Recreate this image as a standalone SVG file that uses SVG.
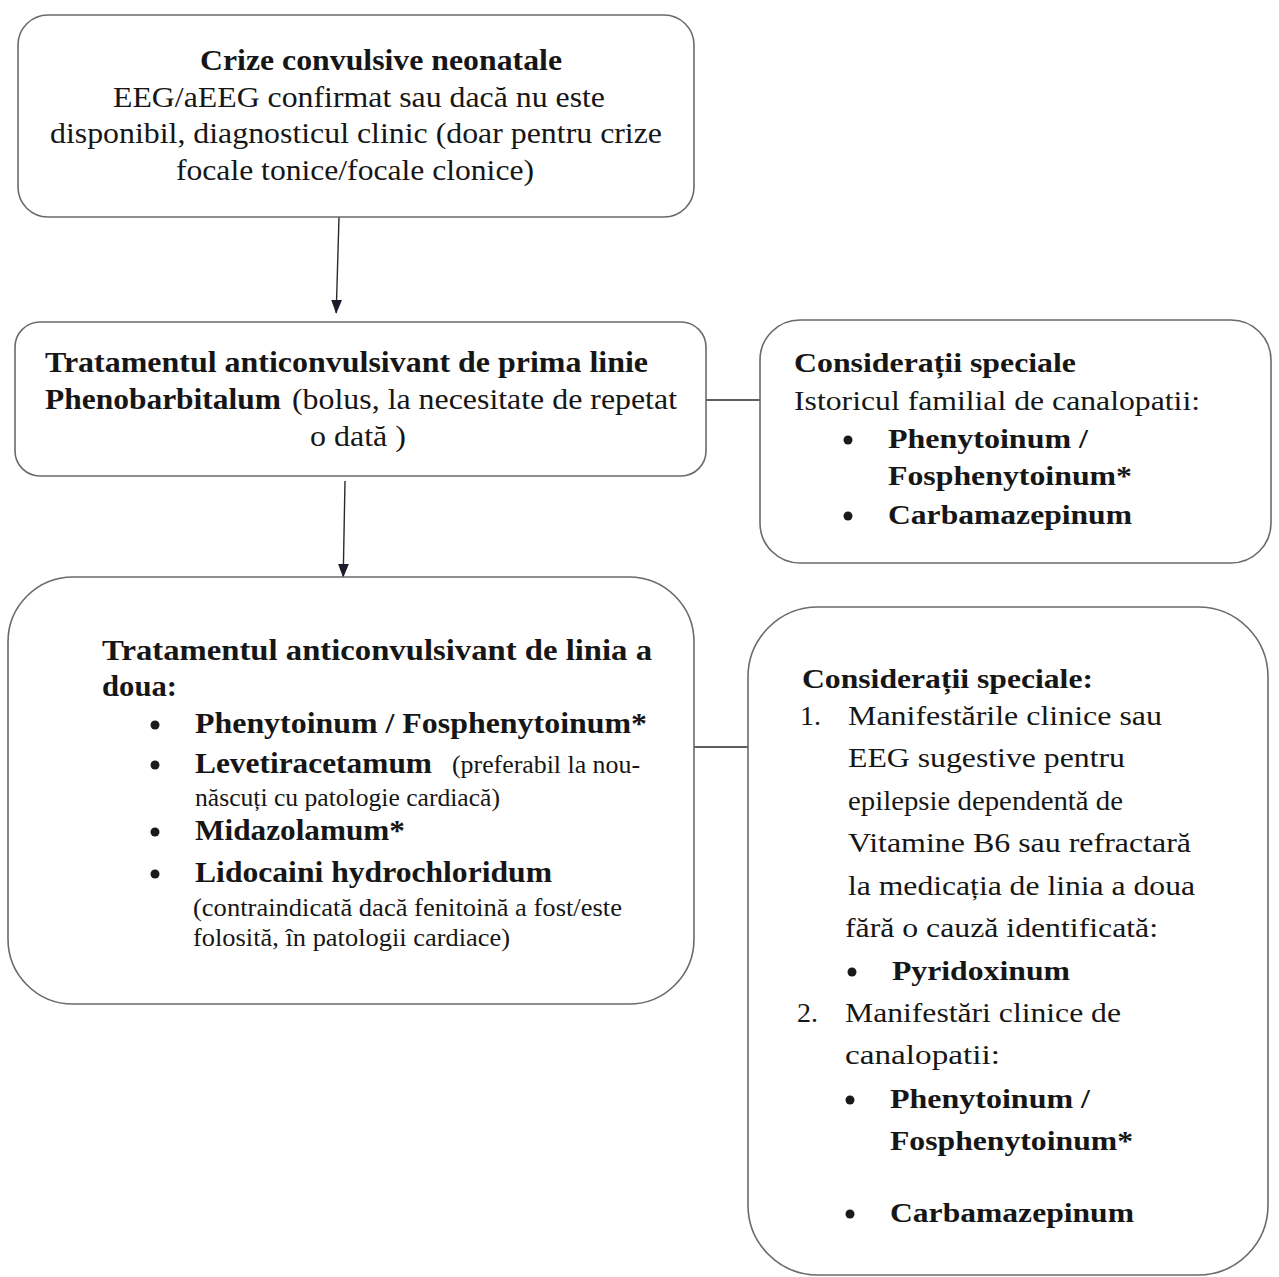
<svg xmlns="http://www.w3.org/2000/svg" width="1279" height="1277" viewBox="0 0 1279 1277">
<defs>
<marker id="arr" markerWidth="14" markerHeight="18" refX="17" refY="7" orient="auto" markerUnits="userSpaceOnUse" viewBox="0 0 18 14">
<path d="M0,0 L18,7 L0,14 Z" fill="#1c1c2a"/>
</marker>
</defs>
<style>
.box{fill:#fff;stroke:#6a6a6a;stroke-width:1.6}
.t{font-family:"Liberation Serif","Times New Roman",serif;fill:#161616}
.b{font-weight:bold}
.l{font-size:29px}
.s{font-size:25px}
.r{font-size:28px}
.dot{fill:#1a1a1a}
.con{stroke:#2a2a2a;stroke-width:1.4;fill:none}
</style>
<rect width="1279" height="1277" fill="#fff"/>
<g id="connectors">
<line class="con" x1="339" y1="217" x2="336.2" y2="313" marker-end="url(#arr)"/>
<line class="con" x1="345" y1="481" x2="343.2" y2="577" marker-end="url(#arr)"/>
<line class="con" x1="706" y1="400" x2="760" y2="400"/>
<line class="con" x1="694" y1="747" x2="756" y2="747"/>
</g>
<g id="n1">
<rect class="box" x="18" y="15" width="676" height="202" rx="30"/>
<text class="t l b" x="200" y="70" textLength="362" lengthAdjust="spacingAndGlyphs">Crize convulsive neonatale</text>
<text class="t l" x="113" y="107" textLength="492" lengthAdjust="spacingAndGlyphs">EEG/aEEG confirmat sau dacă nu este</text>
<text class="t l" x="50" y="143" textLength="612" lengthAdjust="spacingAndGlyphs">disponibil, diagnosticul clinic (doar pentru crize</text>
<text class="t l" x="176" y="180" textLength="358" lengthAdjust="spacingAndGlyphs">focale tonice/focale clonice)</text>
</g>
<g id="n2">
<rect class="box" x="15" y="322" width="691" height="154" rx="25"/>
<text class="t l b" x="45" y="372" textLength="603" lengthAdjust="spacingAndGlyphs">Tratamentul anticonvulsivant de prima linie</text>
<text class="t l b" x="45" y="409" textLength="236" lengthAdjust="spacingAndGlyphs">Phenobarbitalum</text>
<text class="t l" x="292" y="409" textLength="385" lengthAdjust="spacingAndGlyphs">(bolus, la necesitate de repetat</text>
<text class="t l" x="310" y="446" textLength="96" lengthAdjust="spacingAndGlyphs">o dată )</text>
</g>
<g id="n3">
<rect class="box" x="760" y="320" width="511" height="243" rx="40"/>
<text class="t r b" x="794" y="372" textLength="282" lengthAdjust="spacingAndGlyphs">Considerații speciale</text>
<text class="t r" x="794" y="410" textLength="406" lengthAdjust="spacingAndGlyphs">Istoricul familial de canalopatii:</text>
<circle class="dot" cx="848" cy="440" r="4.5"/>
<text class="t r b" x="888" y="448" textLength="200" lengthAdjust="spacingAndGlyphs">Phenytoinum /</text>
<text class="t r b" x="888" y="485" textLength="244" lengthAdjust="spacingAndGlyphs">Fosphenytoinum*</text>
<circle class="dot" cx="848" cy="516" r="4.5"/>
<text class="t r b" x="888" y="524" textLength="244" lengthAdjust="spacingAndGlyphs">Carbamazepinum</text>
</g>
<g id="n4">
<rect class="box" x="8" y="577" width="686" height="427" rx="65"/>
<text class="t l b" x="102" y="660" textLength="550" lengthAdjust="spacingAndGlyphs">Tratamentul anticonvulsivant de linia a</text>
<text class="t l b" x="102" y="696" textLength="75" lengthAdjust="spacingAndGlyphs">doua:</text>
<circle class="dot" cx="155" cy="725" r="4.5"/>
<text class="t l b" x="195" y="733" textLength="452" lengthAdjust="spacingAndGlyphs">Phenytoinum / Fosphenytoinum*</text>
<circle class="dot" cx="155" cy="765" r="4.5"/>
<text class="t l b" x="195" y="773" textLength="237" lengthAdjust="spacingAndGlyphs">Levetiracetamum</text>
<text class="t s" x="452" y="773" textLength="188" lengthAdjust="spacingAndGlyphs">(preferabil la nou-</text>
<text class="t s" x="195" y="806" textLength="305" lengthAdjust="spacingAndGlyphs">născuți cu patologie cardiacă)</text>
<circle class="dot" cx="155" cy="832" r="4.5"/>
<text class="t l b" x="195" y="840" textLength="210" lengthAdjust="spacingAndGlyphs">Midazolamum*</text>
<circle class="dot" cx="155" cy="874" r="4.5"/>
<text class="t l b" x="195" y="882" textLength="357" lengthAdjust="spacingAndGlyphs">Lidocaini hydrochloridum</text>
<text class="t s" x="193" y="916" textLength="429" lengthAdjust="spacingAndGlyphs">(contraindicată dacă fenitoină a fost/este</text>
<text class="t s" x="193" y="946" textLength="317" lengthAdjust="spacingAndGlyphs">folosită, în patologii cardiace)</text>
</g>
<g id="n5">
<rect class="box" x="748" y="607" width="520" height="668" rx="70"/>
<text class="t r b" x="802" y="688" textLength="291" lengthAdjust="spacingAndGlyphs">Considerații speciale:</text>
<text class="t r" x="800" y="725">1.</text>
<text class="t r" x="848" y="725" textLength="314" lengthAdjust="spacingAndGlyphs">Manifestările clinice sau</text>
<text class="t r" x="848" y="767" textLength="277" lengthAdjust="spacingAndGlyphs">EEG sugestive pentru</text>
<text class="t r" x="848" y="810" textLength="275" lengthAdjust="spacingAndGlyphs">epilepsie dependentă de</text>
<text class="t r" x="848" y="852" textLength="343" lengthAdjust="spacingAndGlyphs">Vitamine B6 sau refractară</text>
<text class="t r" x="848" y="895" textLength="347" lengthAdjust="spacingAndGlyphs">la medicația de linia a doua</text>
<text class="t r" x="845" y="937" textLength="313" lengthAdjust="spacingAndGlyphs">fără o cauză identificată:</text>
<circle class="dot" cx="852" cy="972" r="4.5"/>
<text class="t r b" x="892" y="980" textLength="178" lengthAdjust="spacingAndGlyphs">Pyridoxinum</text>
<text class="t r" x="797" y="1022">2.</text>
<text class="t r" x="845" y="1022" textLength="276" lengthAdjust="spacingAndGlyphs">Manifestări clinice de</text>
<text class="t r" x="845" y="1064" textLength="155" lengthAdjust="spacingAndGlyphs">canalopatii:</text>
<circle class="dot" cx="850" cy="1100" r="4.5"/>
<text class="t r b" x="890" y="1108" textLength="200" lengthAdjust="spacingAndGlyphs">Phenytoinum /</text>
<text class="t r b" x="890" y="1150" textLength="243" lengthAdjust="spacingAndGlyphs">Fosphenytoinum*</text>
<circle class="dot" cx="850" cy="1214" r="4.5"/>
<text class="t r b" x="890" y="1222" textLength="244" lengthAdjust="spacingAndGlyphs">Carbamazepinum</text>
</g>
</svg>
